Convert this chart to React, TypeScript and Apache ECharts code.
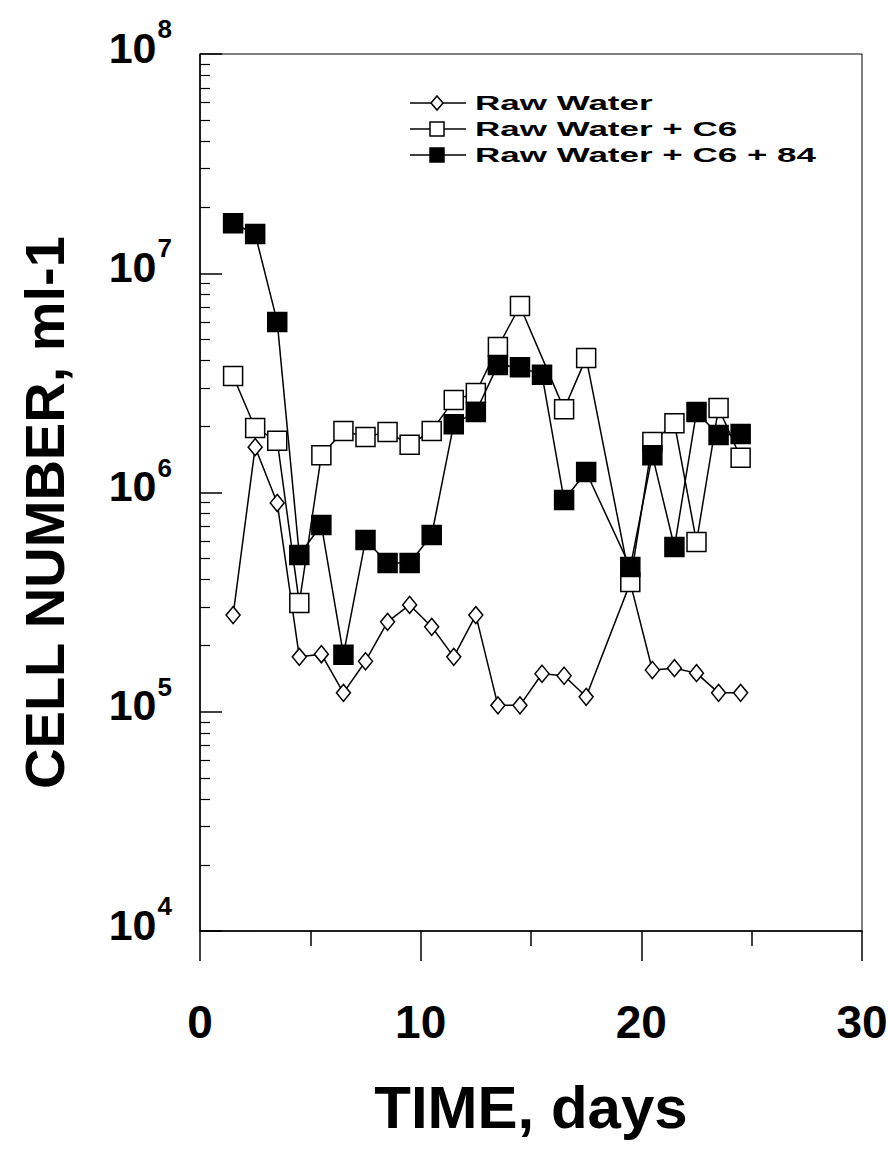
import React, { useEffect, useRef } from "react";
import * as echarts from "echarts";

const rawDays = [1.5, 2.5, 3.5, 4.5, 5.5, 6.5, 7.5, 8.5, 9.5, 10.5, 11.5, 12.5, 13.5, 14.5, 15.5, 16.5, 17.5, 19.5, 20.5, 21.5, 22.5, 23.5, 24.5];
const rawValues = [2.76e5, 1.61e6, 8.96e5, 1.78e5, 1.83e5, 1.22e5, 1.70e5, 2.57e5, 3.07e5, 2.44e5, 1.78e5, 2.76e5, 1.07e5, 1.07e5, 1.49e5, 1.46e5, 1.17e5, 3.87e5, 1.55e5, 1.58e5, 1.50e5, 1.22e5, 1.22e5];

const c6Days = [1.5, 2.5, 3.5, 4.5, 5.5, 6.5, 7.5, 8.5, 9.5, 10.5, 11.5, 12.5, 13.5, 14.5, 16.5, 17.5, 19.5, 20.5, 21.5, 22.5, 23.5, 24.5];
const c6Values = [3.40e6, 1.97e6, 1.72e6, 3.13e5, 1.48e6, 1.91e6, 1.79e6, 1.89e6, 1.65e6, 1.91e6, 2.64e6, 2.84e6, 4.61e6, 7.09e6, 2.40e6, 4.11e6, 3.91e5, 1.70e6, 2.07e6, 5.95e5, 2.43e6, 1.44e6];

const c684Days = [1.5, 2.5, 3.5, 4.5, 5.5, 6.5, 7.5, 8.5, 9.5, 10.5, 11.5, 12.5, 13.5, 14.5, 15.5, 16.5, 17.5, 19.5, 20.5, 21.5, 22.5, 23.5, 24.5];
const c684Values = [1.69e7, 1.51e7, 6.0e6, 5.19e5, 7.11e5, 1.82e5, 6.07e5, 4.77e5, 4.77e5, 6.40e5, 2.05e6, 2.33e6, 3.82e6, 3.73e6, 3.44e6, 9.24e5, 1.24e6, 4.57e5, 1.48e6, 5.64e5, 2.33e6, 1.83e6, 1.85e6];

const seriesNames = ["Raw Water", "Raw Water + C6", "Raw Water + C6 + 84"];
const xTickLabels = ["0", "10", "20", "30"];
const yDecades = [4, 5, 6, 7, 8];
const minorMultipliers = [2, 3, 4, 5, 6, 7, 8, 9];

const FONT = "'Liberation Sans Narrow', 'Liberation Sans', Arial, sans-serif";
const FONT_WIDE = "'Liberation Sans', Arial, sans-serif";

function pairs(xs: number[], ys: number[]) {
  return xs.map((x, i) => [x, ys[i]]);
}

export default function App() {
  const ref = useRef<HTMLDivElement>(null);
  useEffect(() => {
    if (!ref.current) return;
    const chart = echarts.init(ref.current, undefined, { renderer: "svg" });
    const minorTicks: number[] = [];
    yDecades.slice(0, -1).forEach((d) => minorMultipliers.forEach((m) => minorTicks.push(m * Math.pow(10, d))));

    const lineStyle = { color: "#000", width: 1.5 };
    const legendRows = [103, 129, 155];
    const legendGraphics: any[] = [];
    legendRows.forEach((y, i) => {
      legendGraphics.push({ type: "line", shape: { x1: 410, y1: y, x2: 466, y2: y }, style: { stroke: "#000", lineWidth: 1.5 }, z: 100 });
      if (i === 0) {
        legendGraphics.push({ type: "polygon", shape: { points: [[437, y - 7], [443, y], [437, y + 7], [431, y]] }, style: { fill: "#fff", stroke: "#000", lineWidth: 1.5 }, z: 101 });
      } else {
        legendGraphics.push({ type: "rect", shape: { x: 430, y: y - 7, width: 14, height: 14 }, style: { fill: i === 1 ? "#fff" : "#000", stroke: "#000", lineWidth: 1.5 }, z: 101 });
      }
      legendGraphics.push({
        type: "text", x: 475, y, scaleX: 1.75, z: 101,
        style: { text: seriesNames[i], font: "bold 20px " + FONT_WIDE, fill: "#000", verticalAlign: "middle", align: "left" },
      });
    });

    chart.setOption({
      animation: false,
      backgroundColor: "#fff",
      grid: {
        left: 200, right: 26, top: 54, bottom: 221, containLabel: false, outerBoundsMode: "none",
        show: true, borderColor: "#000", borderWidth: 1, backgroundColor: "transparent",
      },
      xAxis: {
        type: "value", min: 0, max: 30, interval: 10,
        name: "TIME, days", nameLocation: "middle", nameGap: 146,
        nameTextStyle: { fontFamily: FONT_WIDE, fontSize: 60, fontWeight: "bold", color: "#000" },
        axisLine: { show: true, lineStyle: { color: "#000", width: 1.5 } },
        axisTick: { show: true, inside: false, length: 30, lineStyle: { color: "#000", width: 1.5 } },
        minorTick: { show: true, splitNumber: 2, length: 15, lineStyle: { color: "#000", width: 1.5 } },
        splitLine: { show: false },
        axisLabel: {
          margin: 68, fontSize: 46, fontWeight: "bold", fontFamily: FONT, color: "#000",
          formatter: (v: number) => xTickLabels[Math.round(v / 10)] ?? String(v),
        },
      },
      yAxis: [
        {
          type: "log", logBase: 10, min: 1e4, max: 1e8, splitNumber: 4,
          name: "CELL NUMBER, ml-1", nameLocation: "middle", nameGap: 128, nameRotate: 90,
          nameTextStyle: { fontFamily: FONT_WIDE, fontSize: 56, fontWeight: "bold", color: "#000", padding: [0, 40, 0, 0] },
          axisLine: { show: true, lineStyle: { color: "#000", width: 1.5 } },
          axisTick: { show: true, inside: true, length: 22, lineStyle: { color: "#000", width: 1.5 } },
          splitLine: { show: false },
          axisLabel: {
            margin: 28,
            formatter: (v: number) => `{b|10}{s|${Math.round(Math.log10(v))}}`,
            rich: {
              b: { fontSize: 43, fontWeight: "bold", fontFamily: FONT, color: "#000", verticalAlign: "bottom", padding: [0, 0, 23, 0] },
              s: { fontSize: 26, fontWeight: "bold", fontFamily: FONT, color: "#000", verticalAlign: "bottom", padding: [0, 0, 50, 1] },
            },
          },
        },
        {
          type: "log", logBase: 10, min: 1e4, max: 1e8, position: "left", offset: 0,
          axisLine: { show: false },
          axisLabel: { show: false },
          splitLine: { show: false },
          axisTick: { show: true, inside: true, length: 10, customValues: minorTicks, lineStyle: { color: "#000", width: 1.2 } },
        },
      ],
      series: [
        {
          name: seriesNames[0], type: "line", yAxisIndex: 0, data: pairs(rawDays, rawValues),
          symbol: "diamond", symbolSize: [14, 17], showAllSymbol: true, z: 2,
          lineStyle, itemStyle: { color: "#fff", borderColor: "#000", borderWidth: 1.5 },
        },
        {
          name: seriesNames[1], type: "line", yAxisIndex: 0, data: pairs(c6Days, c6Values),
          symbol: "rect", symbolSize: 19, showAllSymbol: true, z: 3,
          lineStyle, itemStyle: { color: "#fff", borderColor: "#000", borderWidth: 1.5 },
        },
        {
          name: seriesNames[2], type: "line", yAxisIndex: 0, data: pairs(c684Days, c684Values),
          symbol: "rect", symbolSize: 19, showAllSymbol: true, z: 4,
          lineStyle, itemStyle: { color: "#000", borderColor: "#000", borderWidth: 1.5 },
        },
      ],
      graphic: legendGraphics,
    });
    return () => chart.dispose();
  }, []);
  return <div ref={ref} style={{ position: "absolute", left: 0, top: 0, width: 888, height: 1152 }} />;
}
